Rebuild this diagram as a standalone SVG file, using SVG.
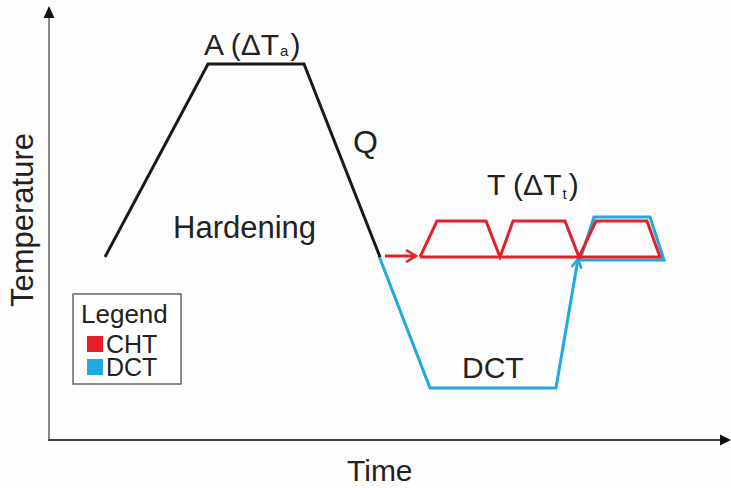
<svg xmlns="http://www.w3.org/2000/svg" width="731" height="488" viewBox="0 0 731 488">
<style>
text{font-family:"Liberation Sans",Arial,sans-serif;fill:#222}
.k{fill:none;stroke:#1a1a1a;stroke-width:3;stroke-linejoin:miter}
.r{fill:none;stroke:#e3202a;stroke-width:3;stroke-linejoin:miter}
.b{fill:none;stroke:#1ea9e1;stroke-width:3;stroke-linejoin:miter}
</style>
<defs>
<marker id="ra" markerWidth="14" markerHeight="14" refX="11" refY="7" orient="auto" markerUnits="userSpaceOnUse"><path d="M1,1 L11,7 L1,13" fill="none" stroke="#e3202a" stroke-width="2.5"/></marker>
<marker id="ba" markerWidth="12" markerHeight="12" refX="10" refY="6" orient="auto" markerUnits="userSpaceOnUse"><path d="M1,1 L10,6 L1,11" fill="none" stroke="#1ea9e1" stroke-width="2.5"/></marker>
</defs>
<rect width="731" height="488" fill="#fdfdfd"/>
<g id="axes">
<line x1="49" y1="440" x2="49" y2="16" stroke="#888" stroke-width="2"/>
<polygon points="49,6 43.5,18 54.5,18" fill="#111"/>
<line x1="48" y1="440" x2="722" y2="440" stroke="#444" stroke-width="1.8"/>
<polygon points="731,440 720,434.5 720,445.5" fill="#111"/>
<text x="0" y="0" font-size="31" transform="translate(33,307) rotate(-90)">Temperature</text>
<text x="347" y="481" font-size="30">Time</text>
</g>
<g id="connectors">
<polyline class="b" points="379,256 430,388 556,388 578,259" marker-end="url(#ba)"/>
<polygon class="b" points="580,260 594,217 650,217 664,260"/>
<polyline class="k" points="105,257 208,64 304,64 380,257"/>
<line class="r" x1="385" y1="256" x2="416" y2="256" marker-end="url(#ra)"/>
<polyline class="r" points="420,257 437,221 486,221 500,257 513,221 565,221 579,257 596,221 647,221 660,257 420,257"/>
</g>
<g id="labels">
<text x="204" y="55" font-size="30">A (ΔT<tspan font-size="15" dx="1" dy="1">a</tspan><tspan dx="2" dy="-1">)</tspan></text>
<text x="353" y="153" font-size="32">Q</text>
<text x="173" y="238" font-size="31">Hardening</text>
<text x="487" y="195" font-size="30">T (ΔT<tspan font-size="15" dx="1" dy="4">t</tspan><tspan dx="2" dy="-4">)</tspan></text>
<text x="462" y="378" font-size="30">DCT</text>
</g>
<g id="legend">
<rect x="73" y="294" width="108" height="90" fill="#fff" stroke="#666" stroke-width="1.5"/>
<text x="81" y="323" font-size="26">Legend</text>
<rect x="87" y="336" width="16" height="16" fill="#e3202a"/>
<text x="106" y="353" font-size="25">CHT</text>
<rect x="87" y="359" width="16" height="16" fill="#1ea9e1"/>
<text x="106" y="376" font-size="25">DCT</text>
</g>
</svg>
